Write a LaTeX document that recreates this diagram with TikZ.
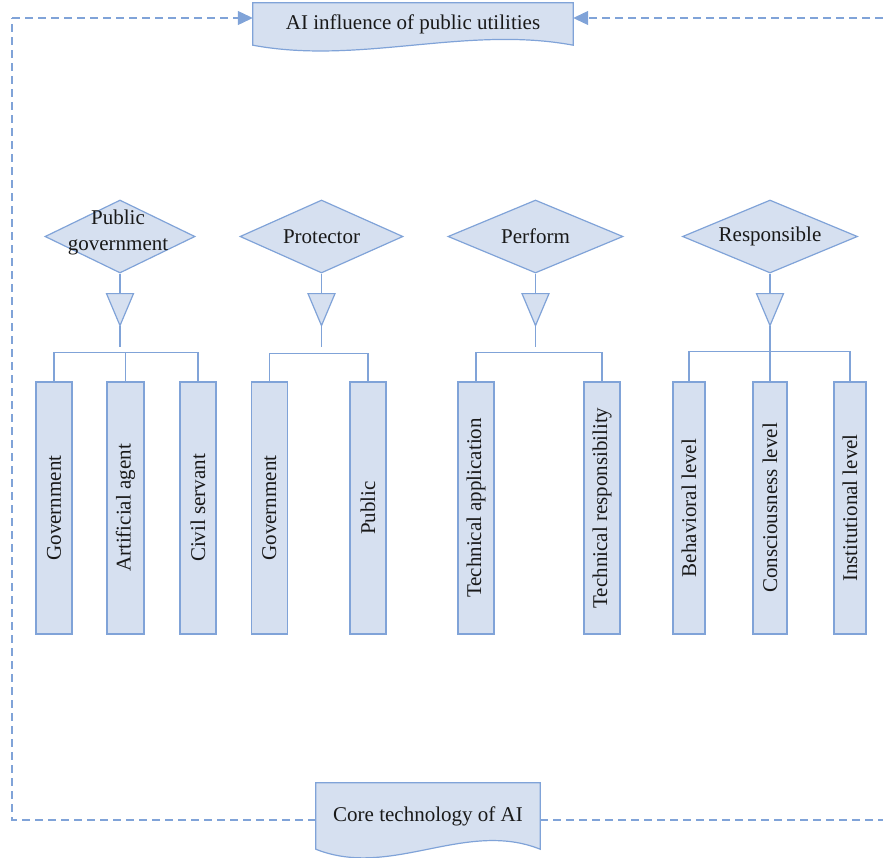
\documentclass[tikz,border=0pt]{standalone}
\usepackage{fontspec}
\setmainfont{Liberation Serif}
\usetikzlibrary{shapes.geometric,arrows.meta,calc}
\definecolor{bfill}{RGB}{214,224,240}
\definecolor{bline}{RGB}{128,163,216}
\begin{document}
\begin{tikzpicture}[x=1pt,y=-1pt,
  txt/.style={font=\fontsize{21}{26}\selectfont, text=black!90, inner sep=0pt},
  ln/.style={draw=bline, line width=1.2pt},
  dsh/.style={draw=bline, line width=1.1pt, dash pattern=on 8pt off 5pt},
  tip/.style={-{Triangle[width=14pt,length=15pt,fill=bline,color=bline]}},
  dia/.style={diamond, draw=bline, fill=bfill, line width=1.2pt, inner sep=0pt, aspect=2.05, minimum width=150pt, minimum height=73pt},
  vbox/.style={draw=bline, fill=bfill, line width=1.2pt, inner sep=0pt, minimum width=36pt, minimum height=252pt, font=\fontsize{21}{26}\selectfont, text=black!90},
  docbox/.style={txt, inner sep=0pt},
  tri/.style={ln, fill=bfill, line join=miter}
]
\useasboundingbox (0,0) rectangle (883,857);

% ---------- document shapes ----------
\node[docbox, minimum width=320pt, minimum height=42pt] (top) at (413,24) {};
\draw[ln, fill=bfill] (top.north west) -- (top.north east) -- (top.south east)
  .. controls ($(top.south east)+(-107,-20)$) and ($(top.south west)+(107,20)$) .. (top.south west) -- cycle;
\node[docbox] (topt) at (413,24) {AI influence of public utilities};

\node[docbox, minimum width=224pt, minimum height=66pt] (core) at (428,816) {};
\draw[ln, fill=bfill] (core.north west) -- (core.north east) -- (core.south east)
  .. controls ($(core.south east)+(-75,-30)$) and ($(core.south west)+(75,30)$) .. (core.south west) -- cycle;
\node[docbox] (coret) at (core) {Core technology of AI};

% ---------- dashed feedback loop ----------
\coordinate (tl) at (12,18);
\coordinate (bl) at (12,820);
\coordinate (tr) at (883,18);
\coordinate (br) at (883,820);
\draw[dsh] (core.west |- bl) -- (bl) -- (tl);
\draw[dsh, tip] (tl) -- (tl -| top.west);
\draw[dsh] (core.east |- br) -- (br);
\draw[dsh, tip] (tr) -- (tr -| top.east);

% ---------- diamonds ----------
\node[dia] (d1) at (120,236.5) {};
\node[txt, align=center] (d1t) at (118,232) {Public\\government};
\node[dia, minimum width=163pt] (d2) at (321.5,236.5) {};
\node[txt] (d2t) at (d2) {Protector};
\node[dia, minimum width=175pt] (d3) at (535.5,236.5) {};
\node[txt] (d3t) at (d3) {Perform};
\node[dia, minimum width=175pt] (d4) at (770,236.5) {};
\node[txt] (d4t) at (d4) {Responsible};

% ---------- triangles and stems ----------
\foreach \d in {d1,d2,d3,d4}{
  \coordinate (\d a) at ($(\d.south)+(0,20)$);
  \coordinate (\d b) at ($(\d.south)+(0,52)$);
  \draw[tri] ($(\d a)+(-13.5,0)$) -- ($(\d a)+(13.5,0)$) -- (\d b) -- cycle;
  \draw[ln] (\d.south) -- (\d a);
}
\draw[ln] (d1b) -- ++(0,21);
\draw[ln] (d2b) -- ++(0,21);
\draw[ln] (d3b) -- ++(0,21);

% ---------- boxes ----------
\node[vbox] (b11) at (54,508) {\rotatebox{90}{Government}};
\node[vbox, minimum width=37pt] (b12) at (125.5,508) {\rotatebox{90}{Artificial agent}};
\node[vbox] (b13) at (198,508) {\rotatebox{90}{Civil servant}};

\node[vbox] (b21) at (269.2,508) {\rotatebox{90}{Government}};
\node[vbox] (b22) at (368,508) {\rotatebox{90}{Public}};

\node[vbox] (b31) at (476,508) {\rotatebox{90}{Technical application}};
\node[vbox] (b32) at (602,508) {\rotatebox{90}{Technical responsibility}};

\node[vbox, minimum width=32pt] (b41) at (689,508) {\rotatebox{90}{Behavioral level}};
\node[vbox, minimum width=34pt] (b42) at (770,508) {\rotatebox{90}{Consciousness level}};
\node[vbox, minimum width=32pt] (b43) at (850,508) {\rotatebox{90}{Institutional level}};

% ---------- brackets ----------
\draw[ln] (b11.north) -- ++(0,-29) -| (b13.north);
\draw[ln] (b12.north) -- ++(0,-29);
\draw[ln] (b21.north) -- ++(0,-28) -| (b22.north);
\draw[ln] (b31.north) -- ++(0,-29) -| (b32.north);
\draw[ln] (b41.north) -- ++(0,-30) -| (b43.north);
\draw[ln] (d4b) -- (b42.north);
\end{tikzpicture}
\end{document}
